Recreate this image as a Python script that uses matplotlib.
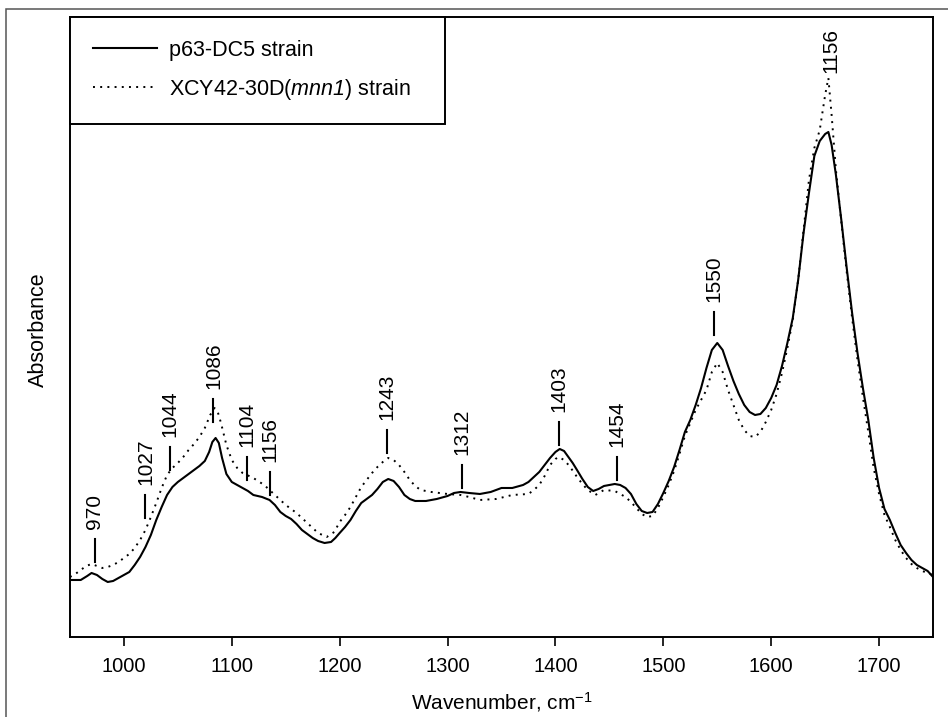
import numpy as np
import matplotlib
matplotlib.use('Agg')
import matplotlib.pyplot as plt
from matplotlib.patches import Rectangle

plt.rcParams['font.family'] = ['Liberation Sans', 'DejaVu Sans']
plt.rcParams['mathtext.fontset'] = 'custom'
plt.rcParams['mathtext.rm'] = 'Liberation Sans'
plt.rcParams['mathtext.it'] = 'Liberation Sans:italic'
# italic digits too (mathtext.it puts digits back upright)
plt.rcParams['mathtext.sf'] = 'Liberation Sans:italic'

# FTIR spectra (absorbance, arbitrary units x1000)
wn_solid = [950, 960, 966, 970, 975, 980, 985, 990, 995, 1000, 1005, 1010, 1015, 1020,
            1025, 1030, 1035, 1040, 1045, 1050, 1055, 1060, 1065, 1070, 1075, 1079,
            1082, 1085, 1088, 1091, 1095, 1100, 1105, 1110, 1115, 1120, 1128, 1135,
            1140, 1145, 1150, 1155, 1160, 1165, 1170, 1175, 1180, 1186, 1192, 1196,
            1200, 1205, 1210, 1215, 1220, 1225, 1230, 1235, 1240, 1245, 1250, 1255,
            1260, 1265, 1270, 1280, 1290, 1300, 1306, 1312, 1320, 1330, 1340, 1350,
            1360, 1370, 1375, 1380, 1385, 1390, 1395, 1400, 1404, 1408, 1412, 1416,
            1420, 1425, 1430, 1435, 1440, 1445, 1450, 1455, 1460, 1465, 1470, 1475,
            1480, 1485, 1490, 1495, 1500, 1505, 1510, 1515, 1520, 1525, 1530, 1535,
            1540, 1545, 1550, 1555, 1560, 1565, 1570, 1575, 1580, 1585, 1590, 1595,
            1600, 1605, 1610, 1615, 1620, 1625, 1630, 1635, 1640, 1645, 1650, 1653,
            1656, 1660, 1665, 1670, 1675, 1680, 1685, 1690, 1695, 1700, 1705, 1710,
            1715, 1720, 1725, 1730, 1735, 1740, 1745, 1750]
p63_dc5 = [57, 57, 61, 64, 62, 58, 55, 56, 59, 62, 65, 72, 80, 90,
           102, 117, 130, 142, 150, 155, 159, 163, 167, 171, 176, 185,
           195, 199, 194, 179, 163, 155, 152, 149, 146, 142, 140, 137,
           132, 125, 121, 118, 113, 107, 103, 99, 96, 94, 95, 99,
           104, 110, 117, 126, 134, 138, 142, 148, 155, 158, 156, 150,
           142, 138, 136, 136, 138, 141, 144, 145, 144, 143, 145, 149,
           149, 152, 155, 160, 165, 172, 179, 185, 188, 186, 180, 174,
           167, 158, 150, 146, 148, 151, 152, 153, 152, 149, 143, 133,
           126, 124, 125, 133, 144, 156, 170, 187, 205, 217, 232, 249,
           269, 287, 294, 287, 271, 256, 243, 232, 225, 222, 223, 229,
           239, 252, 271, 294, 319, 357, 404, 444, 481, 496, 503, 505,
           492, 462, 417, 369, 324, 284, 249, 217, 179, 149, 128, 117,
           104, 92, 84, 77, 72, 69, 66, 60]

wn_dot = [950, 955, 960, 965, 970, 975, 980, 985, 990, 995, 1000, 1005, 1010, 1015,
          1020, 1025, 1030, 1035, 1040, 1045, 1050, 1055, 1060, 1065, 1070, 1075,
          1080, 1084, 1087, 1090, 1095, 1100, 1105, 1110, 1120, 1130, 1140, 1150,
          1160, 1170, 1180, 1188, 1195, 1200, 1205, 1210, 1215, 1220, 1225, 1230,
          1235, 1240, 1245, 1250, 1255, 1260, 1265, 1270, 1275, 1285, 1300, 1312,
          1320, 1330, 1345, 1360, 1375, 1380, 1385, 1390, 1395, 1400, 1403, 1408,
          1413, 1420, 1425, 1430, 1437, 1445, 1455, 1465, 1470, 1475, 1480, 1485,
          1490, 1495, 1500, 1505, 1510, 1515, 1520, 1525, 1530, 1535, 1540, 1545,
          1550, 1555, 1560, 1565, 1570, 1575, 1580, 1585, 1590, 1595, 1600, 1605,
          1610, 1615, 1620, 1625, 1630, 1635, 1640, 1645, 1650, 1653, 1656, 1660,
          1665, 1670, 1675, 1680, 1685, 1690, 1695, 1700, 1705, 1710, 1715, 1720,
          1725, 1730, 1735, 1740, 1745, 1750]
xcy42 = [60, 63, 67, 71, 73, 71, 69, 70, 72, 75, 79, 83, 89, 97,
         107, 120, 134, 149, 162, 169, 174, 180, 187, 193, 200, 209,
         222, 229, 225, 214, 192, 177, 169, 164, 159, 152, 142, 132,
         124, 114, 104, 100, 105, 115, 122, 130, 140, 150, 157, 164,
         170, 175, 179, 177, 172, 165, 157, 151, 147, 145, 143, 142,
         140, 137, 138, 142, 143, 147, 152, 161, 172, 178, 180, 177,
         171, 160, 153, 147, 142, 147, 146, 140, 135, 129, 123, 120,
         121, 129, 140, 152, 166, 183, 201, 214, 227, 237, 247, 265,
         274, 265, 247, 232, 217, 207, 201, 200, 205, 215, 227, 243,
         264, 289, 317, 357, 407, 457, 489, 507, 542, 559, 522, 467,
         415, 365, 319, 277, 240, 205, 169, 143, 122, 110, 97, 87,
         79, 73, 69, 66, 64, 62]

# peak labels: text, marker position (cm-1), marker base (same units as spectra)
peak_labels = ['970', '1027', '1044', '1086', '1104', '1156', '1243', '1312',
               '1403', '1454', '1550']
peak_pos = [973, 1020, 1043, 1083, 1114, 1135, 1244, 1313, 1403, 1457, 1547]
peak_base = [75, 119, 167, 215, 157, 142, 184, 149, 192, 157, 302]
top_label, top_pos, top_base = '1156', 1655, 564

solid = np.array(p63_dc5) / 1000
dotted = np.array(xcy42) / 1000
dot_style = (0, (1, 2.7))

fig = plt.figure(figsize=(9.48, 7.17), dpi=100)
ax = fig.add_axes([0.0738, 0.1116, 0.9104, 0.8647])

ax.plot(wn_solid, solid, color='black', lw=1.5, label='p63-DC5 strain')
ax.plot(wn_dot, dotted, color='black', lw=1.4, linestyle=dot_style,
        label=r'XCY42-30D($\mathsf{mnn1}$) strain')

tick_len = 0.023
for lab, x, b in zip(peak_labels, peak_pos, peak_base):
    b = b / 1000
    ax.plot([x, x], [b, b + tick_len], color='black', lw=1.5)
    ax.annotate(lab, (x, b + tick_len), xytext=(0, 7), textcoords='offset points',
                rotation=90, ha='center', va='bottom', fontsize=15)
ax.annotate(top_label, (top_pos, top_base / 1000), xytext=(0, 0),
            textcoords='offset points', rotation=90, ha='center', va='bottom',
            fontsize=15)

ax.set_xlim(950, 1750)
ax.set_ylim(0, 0.620)
ax.set_xticks(range(1000, 1701, 100))
ax.set_yticks([])
ax.tick_params(axis='x', direction='out', length=6.5, width=1.2, labelsize=14.5, pad=8)
for s in ax.spines.values():
    s.set_linewidth(1.4)

ax.set_xlabel(r'Wavenumber, cm$^{-1}$', fontsize=15, labelpad=10)
ax.set_ylabel('Absorbance', fontsize=15.5)
ax.yaxis.set_label_coords(-0.024, 0.495)

leg = ax.legend(loc='upper left', bbox_to_anchor=(0, 1, 0.435, 0), mode='expand',
                borderaxespad=0, fancybox=False, framealpha=1, edgecolor='black',
                fontsize=15.5, handlelength=3.0, handletextpad=0.55, borderpad=1.05,
                labelspacing=0.75)
leg.get_frame().set_linewidth(1.4)

# outer frame of the original figure panel
fig.add_artist(Rectangle((6 / 948, -0.5), 2, 0.5 + (717 - 9) / 717,
                         transform=fig.transFigure, fill=False,
                         edgecolor='#555555', lw=1.1, clip_on=False))

fig.savefig('out.png', dpi=100)
